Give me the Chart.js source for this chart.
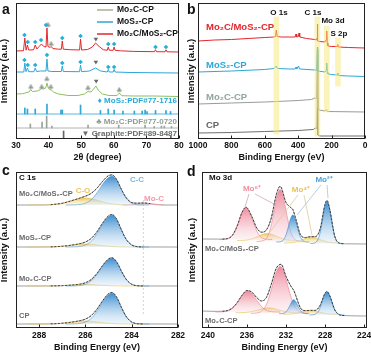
<!DOCTYPE html>
<html>
<head>
<meta charset="utf-8">
<script src="https://cdn.jsdelivr.net/npm/chart.js@4.4.1/dist/chart.umd.min.js"></script>
<style>
html,body{margin:0;padding:0;background:#fff;}
#wrap{position:relative;width:371px;height:353px;overflow:hidden;background:#fff;}
canvas{position:absolute;}
.pl{position:absolute;font:bold 14px "Liberation Sans",Arial,sans-serif;line-height:14px;color:#111;}
</style>
</head>
<body>
<div id="wrap">
<canvas id="ca" width="185" height="170" style="left:0;top:0"></canvas>
<canvas id="cb" width="186" height="170" style="left:185px;top:0"></canvas>
<canvas id="cc" width="185" height="183" style="left:0;top:170px"></canvas>
<canvas id="cd" width="186" height="183" style="left:185px;top:170px"></canvas>
<div class="pl" style="left:2px;top:2px">a</div>
<div class="pl" style="left:187px;top:2px">b</div>
<div class="pl" style="left:2px;top:163px">c</div>
<div class="pl" style="left:187px;top:164px">d</div>
</div>
<script>
// ================= DATA =================
// ---- (a) XRD: [2theta, intensity a.u.] ----
const xrdHetero = [[30,88],[32.3,88.3],[32.7,101],[33.1,88.8],[33.5,94],[33.9,89],[35.4,89.2],[35.9,94],[36.4,90],[37.1,92.5],[37.8,95],[38.5,92.5],[39.2,92],[39.5,111],[39.8,92.5],[40.5,91.5],[40.8,92.5],[41.3,90.5],[43,89.8],[43.9,89.8],[44.2,98],[44.5,89.8],[46.5,89.3],[49.5,89],[49.8,100],[50.1,89],[52,89.5],[53.4,92],[54.4,96],[55.5,92.5],[56.8,89.2],[58,88.8],[58.3,92],[58.6,88.8],[59.8,88.7],[60.1,92],[60.4,88.7],[62,88.2],[66,87.6],[72.5,87.3],[72.8,89.3],[73.1,87.3],[75.7,87.2],[76,89.2],[76.3,87.2],[80,87]];
const xrdMoS2 = [[30,67],[32.4,67],[32.7,76],[33.05,67.3],[33.5,71],[33.9,67.3],[35.5,67.3],[35.9,71],[36.3,67.5],[37.5,68],[39.2,68],[39.5,80],[39.8,68],[41,67.5],[43.9,67.5],[44.2,73],[44.5,67.5],[49.5,67.3],[49.8,74],[50.1,67.3],[52.5,68],[54.4,71],[56,68],[58,67],[58.3,69.5],[58.6,67],[59.8,67],[60.1,69.5],[60.4,67],[65,66.5],[80,66]];
const xrdMo2C = [[30,45],[32,45.3],[34,47],[34.5,49.5],[35,47.5],[36.5,48],[37.5,49.5],[38,51],[38.5,50],[39.1,51],[39.5,56],[39.9,51],[40.4,49.5],[40.8,49],[41.5,47],[43,45],[46,43.5],[49,43.5],[51,45],[52.1,47.5],[53,47],[53.8,50],[54.5,53],[55.2,49],[56.5,45],[58.5,43.5],[61,43.5],[61.7,46],[62.4,43.3],[66,43],[72,43],[80,42.5]];
const markMoS2 = [[32.6,104],[33.6,97],[35.9,97],[37.7,99],[39.2,114],[44.2,101],[49.8,103],[58.3,95],[60.1,95],[72.8,92],[76,92],[32.6,79],[33.6,74],[35.9,74],[39.5,84],[44.2,76],[49.8,77],[58.3,72],[60.1,72]];
const markMo2C = [[39.85,114],[40.8,95],[34.6,52],[37.9,52],[39.5,60],[40.7,52],[52.1,51],[61.7,49]];
const markGraphite = [[54.5,100],[54.5,77],[54.6,58]];
const refMoS2Base = 25;
const refMoS2 = [[32.7,31],[33.5,30],[35.9,30],[39.5,35],[43.8,29],[44.2,29],[49.8,34],[55.9,28.5],[58.3,30],[60.1,29],[62.8,28],[66.3,28],[68.7,28],[69.6,29],[70.2,27.5],[72.8,28.5],[76,28.5],[77.4,27.5]];
const refMo2CBase = 11;
const refMo2C = [[34.4,15],[38,17],[39.4,23],[41,13],[52.1,14],[61.5,14],[69.6,14],[72.4,12.5],[74.6,13],[75.5,13],[77.7,12.5]];
const refGraphiteBase = 0;
const refGraphite = [[44.6,8],[54.7,4],[77.5,3]];

// ---- (b) XPS survey: [binding energy eV, intensity a.u.] ----
const xpsHetero = [[1000,98],[900,99],[800,99.5],[700,100.5],[600,101.5],[545,102],[536,102.5],[531,109],[526,102.5],[500,102],[418,102],[413,105],[409,102],[399,102.5],[395,106],[391,102],[350,100.5],[300,99.5],[291,99],[287,101],[285,115],[283,98],[270,97.5],[240,97],[233,99],[229,108],[226,96],[222,93],[200,92.5],[166,92.5],[163,94.5],[159,92],[100,91.5],[0,91]];
const xpsMoS2 = [[1000,67],[800,68],[600,69.5],[545,70.5],[531,73],[525,70.5],[450,70],[418,70],[413,72],[409,70],[398,73],[392,70],[300,69],[290,68.5],[285,92],[283,68],[240,67],[233,68.5],[229,76],[226,66.5],[222,65],[200,64.5],[166,64],[163,66],[159,63.5],[100,63],[0,62.5]];
const xpsMo2C = [[1000,35],[800,36],[600,37],[531,37.5],[400,38.5],[320,39.5],[300,41],[290,40.5],[285,89],[282,31],[275,29],[240,28],[230,29.5],[226,27.5],[0,27]];
const xpsCP = [[1000,6],[800,6.5],[600,7.5],[400,8.5],[310,9.5],[296,11],[288,10.5],[285,41],[283,4],[270,3],[0,3]];
const xpsBands = [[531,5,122],[285,3,122],[229,27,113],[162,53,101]]; // [eV, from, to]

// ---- (c) C 1s ----
const c1Env = [[289,123],[288.5,123],[288,123.02],[287.5,123.3],[287,124.7],[286.5,128],[286.2,130.2],[286,131.8],[285.75,134.7],[285.5,139.8],[285.25,146.9],[285,152.4],[284.85,153.1],[284.65,148.4],[284.45,138.9],[284.25,130.6],[284,125.5],[283.75,124.8],[283.5,125],[283.2,124.35],[282.8,123.24],[282.4,123],[282,123]];
const c1CC = [[286.85,123],[286.46,123.15],[286.0,124.8],[285.71,129.1],[285.43,137.5],[285.14,147.4],[284.85,152],[284.64,147.4],[284.43,137.5],[284.21,129.1],[284.0,124.8],[283.66,123.15],[283.25,123]];
const c1CO = [[288.5,123],[287.96,123.04],[287.4,123.44],[287.05,124.5],[286.7,126.5],[286.35,128.9],[286.0,130],[285.65,128.9],[285.3,126.5],[284.95,124.5],[284.6,123.44],[284.04,123.04],[283.5,123]];
const c1MoC = [[282.6,123],[283.1,123.5],[283.5,125],[283.9,123.5],[284.4,123]];
const c2Env = [[289,81],[288,81.01],[287.5,81.12],[287,81.73],[286.5,83.2],[286.2,84.5],[286,86],[285.75,89.6],[285.5,96.3],[285.25,105.2],[285,112.2],[284.85,113.5],[284.65,108.7],[284.45,98.4],[284.25,89],[284,83],[283.75,81.3],[283.5,81.03],[282,81]];
const c2CC = [[286.85,81],[286.46,81.16],[286.0,83],[285.71,87.7],[285.43,97],[285.14,107.9],[284.85,113],[284.64,107.9],[284.43,97],[284.21,87.7],[284.0,83],[283.66,81.16],[283.25,81]];
const c2CO = [[288.5,81],[287.96,81.02],[287.4,81.19],[287.05,81.63],[286.7,82.5],[286.35,83.5],[286.0,84],[285.65,83.5],[285.3,82.5],[284.95,81.63],[284.6,81.19],[284.04,81.02],[283.5,81]];
const c3Env = [[289,42],[287.5,42.06],[287,42.36],[286.5,43.1],[286.2,44],[286,45.25],[285.75,48.5],[285.5,54.6],[285.25,62.7],[285,69.1],[284.85,70.2],[284.65,66.1],[284.45,57.15],[284.25,49],[284,43.75],[283.75,42.27],[283.5,42.03],[282,42]];
const c3CC = [[286.85,42],[286.46,42.14],[286.0,43.75],[285.71,47.9],[285.43,56],[285.14,65.5],[284.85,70],[284.64,65.5],[284.43,56],[284.21,47.9],[284.0,43.75],[283.66,42.14],[283.25,42]];
const c3CO = [[288.5,42],[287.4,42.09],[287.05,42.3],[286.7,42.75],[286.35,43.26],[286.0,43.5],[285.65,43.26],[285.3,42.75],[284.95,42.3],[284.6,42.09],[283.5,42]];
const c4Env = [[289,4],[288,4.01],[287.5,4.12],[287,4.73],[286.5,6.2],[286.2,7.5],[286,8.9],[285.75,12.4],[285.5,18.9],[285.25,27.5],[285,34.3],[284.85,35.5],[284.65,30.8],[284.45,20.9],[284.25,11.8],[284,5.94],[283.75,4.3],[283.5,4.03],[282,4]];
const c4CC = [[286.85,4],[286.46,4.16],[286.0,5.94],[285.71,10.5],[285.43,19.5],[285.14,30.0],[284.85,35],[284.64,30.0],[284.43,19.5],[284.21,10.5],[284.0,5.94],[283.66,4.16],[283.25,4]];
const c4CO = [[288.5,4],[287.96,4.02],[287.4,4.19],[287.05,4.63],[286.7,5.5],[286.35,6.5],[286.0,7],[285.65,6.5],[285.3,5.5],[284.95,4.63],[284.6,4.19],[284.04,4.02],[283.5,4]];
const moCMarker = [[283.5,128],[283.5,14]];

// ---- (d) Mo 3d ----
const dTopEnv = [[240.6,89],[239,88.9],[238.5,88.9],[238,89.4],[237.5,92.5],[237,101.9],[236.5,115.6],[236.1,120.8],[235.5,111.5],[235,100.1],[234.5,95.8],[234,98.1],[233.5,110.2],[233,132.9],[232.6,141.7],[232,125.6],[231.5,120.3],[231.3,118.5],[231,109.4],[230.5,93],[230,90.45],[229.5,91.3],[229,91.3],[228.5,99],[228,123.7],[227.8,127.6],[227.5,117.8],[227,91.6],[226.5,84.7],[226,84.2],[223.7,84]];
const dTopMo6a = [[233.4,88.5],[233.9,88.7],[234.5,90.5],[234.9,95.2],[235.3,104.5],[235.7,115.4],[236.1,120.5],[236.5,115.4],[236.9,104.5],[237.3,95.2],[237.7,90.5],[238.3,88.7],[238.8,88.5]];
const dTopMo6b = [[230.2,86.5],[230.6,86.8],[231.2,89.8],[231.55,97.4],[231.9,112.5],[232.25,130.2],[232.6,138.5],[232.95,130.2],[233.3,112.5],[233.65,97.4],[234.0,89.8],[234.6,86.8],[235.0,86.5]];
const dTopMo2a = [[229.6,86],[229.9,86.1],[230.3,87.7],[230.55,91.7],[230.8,99.5],[231.05,108.7],[231.3,113],[231.55,108.7],[231.8,99.5],[232.05,91.7],[232.3,87.7],[232.7,86.1],[233.0,86]];
const dTopMo2b = [[226.1,84.5],[226.4,84.7],[226.8,87.1],[227.05,93.3],[227.3,105.5],[227.55,119.8],[227.8,126.5],[228.05,119.8],[228.3,105.5],[228.55,93.3],[228.8,87.1],[229.2,84.7],[229.5,84.5]];
const dTopMo4a = [[230.8,87.5],[231.7,87.9],[232.25,89],[232.8,91],[233.35,93.4],[233.9,94.5],[234.45,93.4],[235.0,91],[235.55,89],[236.1,87.9],[237.0,87.5]];
const dTopMo4b = [[226.6,85],[227.4,85.4],[227.9,86.3],[228.4,88],[228.9,90],[229.4,91],[229.9,90],[230.4,88],[230.9,86.3],[231.4,85.4],[232.2,85]];
const dBotEnv = [[240.6,17],[239,16.6],[238.5,16.7],[238,17.4],[237.5,19.9],[237,25.3],[236.5,32.7],[236,37.5],[235.5,35.9],[235,30.5],[234.5,27],[234,30.6],[233.5,43.8],[233,59.5],[232.5,63.7],[232,51.7],[231.5,41.9],[231.2,37.6],[231,32.5],[230.5,19.7],[230,17.4],[229.5,17.6],[229,17.6],[228.5,22.7],[228,34.8],[227.8,36.5],[227.5,31.9],[227,18.1],[226.5,13.1],[226,12.4],[223.7,12]];
const dBotMo6a = [[232.6,16],[233.1,16.1],[233.9,17.3],[234.4,20.4],[234.9,26.5],[235.4,33.6],[235.9,37],[236.4,33.6],[236.9,26.5],[237.4,20.4],[237.9,17.3],[238.7,16.1],[239.2,16]];
const dBotMo6b = [[229.6,14.7],[230.1,14.9],[230.8,17.6],[231.25,24.6],[231.7,38.2],[232.15,54.2],[232.6,61.7],[233.05,54.2],[233.5,38.2],[233.95,24.6],[234.4,17.6],[235.1,14.9],[235.6,14.7]];
const dBotMo2a = [[229.7,14.3],[229.95,14.4],[230.3,15.2],[230.5,17.2],[230.75,21.3],[230.98,26.1],[231.2,28.3],[231.42,26.1],[231.65,21.3],[231.9,17.2],[232.1,15.2],[232.45,14.4],[232.7,14.3]];
const dBotMo2b = [[226.0,13],[226.26,13.1],[226.7,14.4],[226.98,17.8],[227.25,24.5],[227.52,32.3],[227.8,36],[228.08,32.3],[228.35,24.5],[228.62,17.8],[228.9,14.4],[229.34,13.1],[229.6,13]];
const dBotMo4a = [[230.44,15.2],[231.4,15.5],[232.0,16.3],[232.6,17.7],[233.2,19.4],[233.8,20.2],[234.4,19.4],[235.0,17.7],[235.6,16.3],[236.2,15.5],[237.16,15.2]];
const dBotMo4b = [[226.7,13.7],[227.5,13.95],[228.0,14.5],[228.5,15.7],[229.0,17.1],[229.5,17.7],[230.0,17.1],[230.5,15.7],[231.0,14.5],[231.5,13.95],[232.3,13.7]];

// ================= HELPERS =================
const FONT = '"Liberation Sans", Arial, Helvetica, sans-serif';
Chart.defaults.font.family = FONT;
Chart.defaults.color = '#111';
Chart.defaults.animation = false;
Chart.defaults.events = [];
Chart.defaults.plugins.legend.display = false;
Chart.defaults.plugins.tooltip.enabled = false;

const RED = '#e5262b', CYAN = '#2ea6d8', GREEN = '#8fbf5f';
const P = a => a.map(p => ({x: p[0], y: p[1]}));
const maxY = a => Math.max(...a.map(p => p[1]));
const minY = a => Math.min(...a.map(p => p[1]));
const f = (s) => 'bold ' + s + 'px ' + FONT;

function makeFrame(anno) {
  return {
    id: 'frame',
    afterDraw(chart) {
      const c = chart.ctx, a = chart.chartArea;
      const ox = chart.canvas.offsetLeft, oy = chart.canvas.offsetTop;
      c.save();
      (anno.lines || []).forEach(l => {
        c.strokeStyle = l.color; c.lineWidth = l.width || 0.8;
        c.beginPath(); c.moveTo(l.x1 - ox, l.y1 - oy); c.lineTo(l.x2 - ox, l.y2 - oy); c.stroke();
      });
      (anno.texts || []).forEach(t => {
        c.font = t.font; c.fillStyle = t.color || '#111';
        c.textAlign = t.align || 'left'; c.textBaseline = 'middle';
        c.fillText(t.text, t.x - ox, t.y - oy);
      });
      c.strokeStyle = '#222'; c.lineWidth = 1;
      const L = Math.round(a.left) + 0.5, T = Math.round(a.top) + 0.5, R = Math.round(a.right) - 0.5, B = Math.round(a.bottom) - 0.5;
      c.strokeRect(L, T, R - L, B - T);
      const xs = chart.scales.x;
      xs.ticks.forEach(tk => {
        const px = Math.round(xs.getPixelForValue(tk.value)) + 0.5;
        c.beginPath(); c.moveTo(px, B); c.lineTo(px, B - 3); c.stroke();
      });
      c.restore();
    }
  };
}

function xScale(min, max, step, rev, title, h, pad, tbot) {
  return {
    type: 'linear', min, max, reverse: rev, offset: false,
    ticks: {stepSize: step, padding: pad, includeBounds: false, autoSkip: false, maxRotation: 0,
            font: {size: 8.5, weight: 'bold'}, color: '#111', callback: v => String(v)},
    grid: {display: false, drawTicks: false}, border: {display: false},
    title: {display: true, text: title, font: {size: 9, weight: 'bold'}, color: '#111', padding: {top: 0, bottom: tbot}},
    afterFit: s => { s.height = h; s.paddingLeft = 0; s.paddingRight = 0; }
  };
}
function yScale(max, w, ptop) {
  return {
    type: 'linear', min: 0, max,
    ticks: {display: false}, grid: {display: false, drawTicks: false}, border: {display: false},
    title: {display: true, text: 'Intensity (a.u.)', font: {size: 9.5, weight: 'bold', lineHeight: 1}, color: '#111', padding: {top: ptop, bottom: 0}},
    afterFit: s => { s.width = w; }
  };
}
function line(arr, color, width, extra) {
  return Object.assign({data: P(arr), showLine: true, pointRadius: 0, borderColor: color, borderWidth: width || 1, fill: false}, extra || {});
}
function bars(arr, base, color) {
  return {type: 'bar', data: arr.map(p => ({x: p[0], y: [base, p[1]]})), backgroundColor: color, borderWidth: 0, barThickness: 1, grouped: false};
}
function marks(arr, style, color, r, rot) {
  return {data: P(arr), showLine: false, pointStyle: style, pointRadius: r, pointBackgroundColor: color, pointBorderColor: color, pointBorderWidth: 0, pointRotation: rot || 0};
}
function glyph(ch, color, size) {
  const cv = document.createElement('canvas'); cv.width = size + 2; cv.height = size + 2;
  const x = cv.getContext('2d'); x.fillStyle = color; x.font = size + 'px "DejaVu Sans"';
  x.textAlign = 'center'; x.textBaseline = 'middle'; x.fillText(ch, cv.width / 2, cv.height / 2 + 0.5);
  return cv;
}
function grad(arr, cTop, cBot) {
  const top = maxY(arr), bot = minY(arr);
  return ctx => {
    const ch = ctx.chart;
    if (!ch.chartArea) return cTop;
    const y0 = ch.scales.y.getPixelForValue(top), y1 = ch.scales.y.getPixelForValue(bot);
    const g = ch.ctx.createLinearGradient(0, y0, 0, y1);
    g.addColorStop(0, cTop); g.addColorStop(1, cBot); return g;
  };
}
function peak(arr, stroke, cTop, cBot) {
  return {data: P(arr), showLine: true, pointRadius: 0, borderWidth: 0.7, borderColor: stroke,
          backgroundColor: grad(arr, cTop, cBot), fill: {value: minY(arr)}, cubicInterpolationMode: 'monotone'};
}
function dashed(arr, lo, hi) {
  return {data: P(arr.filter(p => p[0] >= lo && p[0] <= hi)), showLine: true, pointRadius: 0, borderColor: '#333',
          borderWidth: 0.9, borderDash: [2, 1.6], fill: false, cubicInterpolationMode: 'monotone'};
}
function raw(arr) {
  return {data: P(arr), showLine: true, pointRadius: 0, borderColor: '#a0a0a0', borderWidth: 1, fill: false, cubicInterpolationMode: 'monotone'};
}

// ================= (a) =================
new Chart(document.getElementById('ca'), {
  type: 'scatter',
  data: {datasets: [
    marks(markMoS2, 'rectRot', '#25b0d8', 2.3),
    marks(markMo2C, glyph('♣', '#8e9a90', 7), '#8e9a90', 3),
    marks(markGraphite, 'triangle', '#666', 2.6, 180),
    line(xrdHetero, RED, 1),
    line(xrdMoS2, CYAN, 1),
    line(xrdMo2C, GREEN, 1),
    bars(refMoS2, refMoS2Base, CYAN),
    bars(refMo2C, refMo2CBase, '#9aa39c'),
    bars(refGraphite, refGraphiteBase, '#666'),
    line([[30, refMoS2Base], [80, refMoS2Base]], CYAN, 0.8),
    line([[30, refMo2CBase], [80, refMo2CBase]], '#9aa39c', 0.8)
  ]},
  options: {
    responsive: false,
    layout: {padding: {left: 0, top: 3, right: 6, bottom: 0}, autoPadding: false},
    scales: {x: xScale(30, 80, 10, false, '2θ (degree)', 31, 2, 7), y: yScale(136, 16, 0)}
  },
  plugins: [makeFrame({
    lines: [
      {x1: 97, y1: 10, x2: 113, y2: 10, color: '#a6b08c', width: 1.5},
      {x1: 97, y1: 22, x2: 113, y2: 22, color: CYAN, width: 1.5},
      {x1: 97, y1: 34, x2: 113, y2: 34, color: RED, width: 1.5}
    ],
    texts: [
      {text: 'Mo₂C-CP', x: 117, y: 10, font: f(8.5)},
      {text: 'MoS₂-CP', x: 117, y: 22, font: f(8.5)},
      {text: 'Mo₂C/MoS₂-CP', x: 117, y: 34, font: f(8.5)},
      {text: '♦ MoS₂:PDF#77-1716', x: 177, y: 101, align: 'right', color: '#25a9d8', font: f(8)},
      {text: '♣ Mo₂C:PDF#77-0720', x: 177, y: 122, align: 'right', color: '#8e9e93', font: f(8)},
      {text: '▼ Graphite:PDF#89-8487', x: 177, y: 133.5, align: 'right', color: '#6b6b6b', font: f(8)}
    ]
  })]
});

// ================= (b) =================
new Chart(document.getElementById('cb'), {
  type: 'scatter',
  data: {datasets: [
    {type: 'bar', data: xpsBands.map(b => ({x: b[0], y: [b[1], b[2]]})), backgroundColor: 'rgba(245,234,120,0.5)', borderWidth: 0, barThickness: 5, grouped: false},
    line(xpsHetero, RED, 1),
    line(xpsMoS2, CYAN, 1),
    line(xpsMo2C, '#9a9a9a', 1),
    line(xpsCP, '#6f6f6f', 1)
  ]},
  options: {
    responsive: false,
    layout: {padding: {left: 0, top: 3, right: 6, bottom: 0}, autoPadding: false},
    scales: {x: xScale(0, 1000, 200, true, 'Binding Energy (eV)', 31, 2, 7), y: yScale(136, 13, 1.2)}
  },
  plugins: [makeFrame({
    texts: [
      {text: 'Mo₂C/MoS₂-CP', x: 206, y: 27, color: RED, font: f(9.5)},
      {text: 'MoS₂-CP', x: 206, y: 65, color: CYAN, font: f(9.5)},
      {text: 'Mo₂C-CP', x: 206, y: 97, color: '#90a79a', font: f(9.5)},
      {text: 'CP', x: 206, y: 125, color: '#666', font: f(9.5)},
      {text: 'O 1s', x: 279, y: 13, align: 'center', font: f(8)},
      {text: 'C 1s', x: 313, y: 13, align: 'center', font: f(8)},
      {text: 'Mo 3d', x: 333, y: 21, align: 'center', font: f(8)},
      {text: 'S 2p', x: 339, y: 34, align: 'center', font: f(8)}
    ]
  })]
});

// ================= (c) =================
const BLT = 'rgba(47,134,204,0.95)', BLB = 'rgba(210,230,247,0.35)';
const YLT = 'rgba(236,190,70,0.9)', YLB = 'rgba(250,236,190,0.3)';
const PKT = 'rgba(236,125,145,0.9)', PKB = 'rgba(250,220,226,0.35)';
new Chart(document.getElementById('cc'), {
  type: 'scatter',
  data: {datasets: [
    dashed(c1Env, 283.2, 287.6), dashed(c2Env, 283.2, 287.6), dashed(c3Env, 283.2, 287.6), dashed(c4Env, 283.2, 287.6),
    peak(c1CC, 'rgba(90,160,215,0.9)', BLT, BLB), peak(c2CC, 'rgba(90,160,215,0.9)', BLT, BLB),
    peak(c3CC, 'rgba(90,160,215,0.9)', BLT, BLB), peak(c4CC, 'rgba(90,160,215,0.9)', BLT, BLB),
    peak(c1MoC, 'rgba(240,150,165,0.9)', PKT, PKB),
    peak(c1CO, 'rgba(236,196,90,0.9)', YLT, YLB), peak(c2CO, 'rgba(236,196,90,0.9)', YLT, YLB),
    peak(c3CO, 'rgba(236,196,90,0.9)', YLT, YLB), peak(c4CO, 'rgba(236,196,90,0.9)', YLT, YLB),
    line(moCMarker, '#c8c8c8', 0.8, {borderDash: [2, 2]}),
    raw(c1Env), raw(c2Env), raw(c3Env), raw(c4Env)
  ]},
  options: {
    responsive: false,
    layout: {padding: {left: 0, top: 2, right: 7, bottom: 0}, autoPadding: false},
    scales: {x: xScale(282, 289, 2, true, 'Binding Energy (eV)', 25, 3, 0), y: yScale(156, 16, 0)}
  },
  plugins: [makeFrame({
    texts: [
      {text: 'C 1s', x: 19, y: 178, font: f(8)},
      {text: 'Mo₂C/MoS₂-CP', x: 19, y: 194, color: '#6a6a6a', font: f(7.5)},
      {text: 'MoS₂-CP', x: 19, y: 238, color: '#6a6a6a', font: f(7.5)},
      {text: 'Mo₂C-CP', x: 19, y: 279, color: '#6a6a6a', font: f(7.5)},
      {text: 'CP', x: 19, y: 316, color: '#6a6a6a', font: f(7.5)},
      {text: 'C-O', x: 83, y: 191, align: 'center', color: '#f0c456', font: f(8)},
      {text: 'C-C', x: 137, y: 180, align: 'center', color: '#7db7dc', font: f(8)},
      {text: 'Mo-C', x: 154, y: 199, align: 'center', color: '#f29aa8', font: f(8)}
    ]
  })]
});

// ================= (d) =================
new Chart(document.getElementById('cd'), {
  type: 'scatter',
  data: {datasets: [
    dashed(dTopEnv, 225.8, 238.8), dashed(dBotEnv, 225.8, 238.8),
    peak(dTopMo2a, 'rgba(60,140,205,0.9)', BLT, BLB), peak(dTopMo2b, 'rgba(60,140,205,0.9)', BLT, BLB),
    peak(dBotMo2a, 'rgba(60,140,205,0.9)', BLT, BLB), peak(dBotMo2b, 'rgba(60,140,205,0.9)', BLT, BLB),
    peak(dTopMo6a, 'rgba(232,130,150,0.9)', PKT, PKB), peak(dTopMo6b, 'rgba(232,130,150,0.9)', PKT, PKB),
    peak(dBotMo6a, 'rgba(232,130,150,0.9)', PKT, PKB), peak(dBotMo6b, 'rgba(232,130,150,0.9)', PKT, PKB),
    peak(dTopMo4a, 'rgba(230,190,80,0.9)', YLT, YLB), peak(dTopMo4b, 'rgba(230,190,80,0.9)', YLT, YLB),
    peak(dBotMo4a, 'rgba(230,190,80,0.9)', YLT, YLB), peak(dBotMo4b, 'rgba(230,190,80,0.9)', YLT, YLB),
    raw(dTopEnv), raw(dBotEnv)
  ]},
  options: {
    responsive: false,
    layout: {padding: {left: 0, top: 2, right: 4, bottom: 0}, autoPadding: false},
    scales: {x: xScale(223.7, 240.6, 4, true, 'Binding Energy (eV)', 25, 3, 0), y: yScale(156, 17, 3)}
  },
  plugins: [makeFrame({
    lines: [
      {x1: 249, y1: 194, x2: 245, y2: 207, color: '#d4a8b0'},
      {x1: 255, y1: 194, x2: 276, y2: 205, color: '#d4a8b0'},
      {x1: 298, y1: 195, x2: 269, y2: 233, color: '#dccc98'},
      {x1: 304, y1: 195, x2: 312, y2: 235, color: '#dccc98'},
      {x1: 321, y1: 185, x2: 297, y2: 215, color: '#a6c4dc'},
      {x1: 327, y1: 185, x2: 328, y2: 198, color: '#a6c4dc'}
    ],
    texts: [
      {text: 'Mo 3d', x: 209, y: 178, font: f(8)},
      {text: 'Mo₂C/MoS₂-CP', x: 205, y: 249, color: '#6a6a6a', font: f(7.5)},
      {text: 'Mo₂C-CP', x: 205, y: 321, color: '#6a6a6a', font: f(7.5)},
      {text: 'Mo⁶⁺', x: 252, y: 189, align: 'center', color: '#ee8fa0', font: f(8)},
      {text: 'Mo⁴⁺', x: 301, y: 190, align: 'center', color: '#e6c15e', font: f(8)},
      {text: 'Mo²⁺', x: 324, y: 180, align: 'center', color: '#49a2da', font: f(8)}
    ]
  })]
});
</script>
</body>
</html>
